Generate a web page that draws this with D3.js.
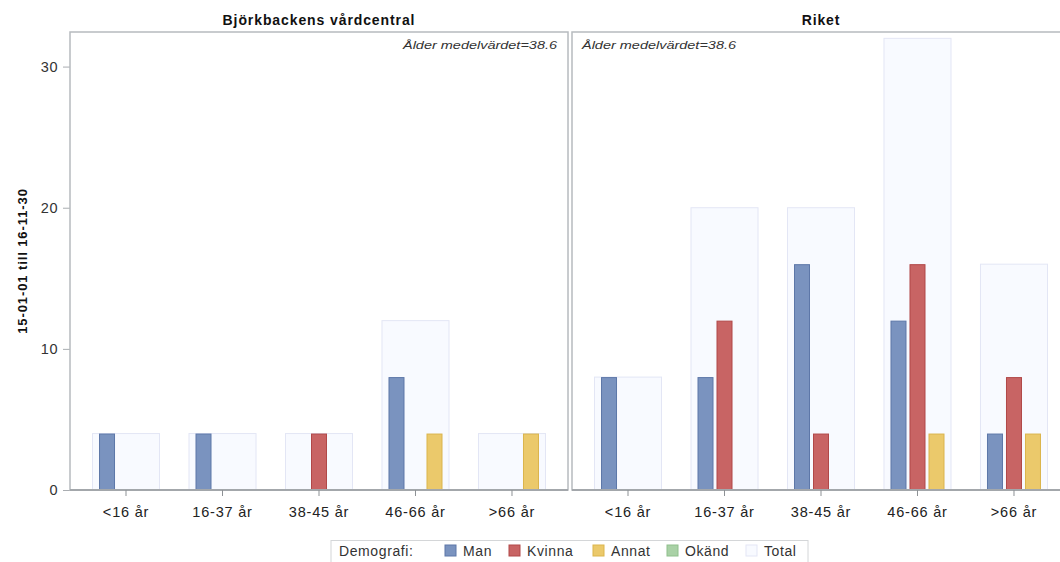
<!DOCTYPE html>
<html><head><meta charset="utf-8">
<script src="https://cdn.jsdelivr.net/npm/d3@7"></script>
<style>
html,body{margin:0;padding:0;background:#fff;overflow:hidden}
svg{display:block;font-family:"Liberation Sans",Arial,sans-serif}
</style></head>
<body>
<svg id="c" width="1060" height="562"></svg>
<script>
const categories = ["<16 år","16-37 år","38-45 år","46-66 år",">66 år"];
const panels = ["Björkbackens vårdcentral","Riket"];
const annotations = ["Ålder medelvärdet=38.6","Ålder medelvärdet=38.6"];
const seriesKeys = ["Man","Kvinna","Annat"];
const legendKeys = ["Man","Kvinna","Annat","Okänd","Total"];
// Björkbackens vårdcentral
const bjManValues    = [4,4,0,8,0];
const bjKvinnaValues = [0,0,4,0,0];
const bjAnnatValues  = [0,0,0,4,4];
const bjTotalValues  = [4,4,4,12,4];
// Riket
const riManValues    = [8,8,16,12,4];
const riKvinnaValues = [0,12,4,16,8];
const riAnnatValues  = [0,0,0,4,4];
const riTotalValues  = [8,20,20,32,16];
const yTicks = [0,10,20,30];
const yTitle = "15-01-01 till 16-11-30";
const legendTitle = "Demografi:";

const panelData = [
  {Man:bjManValues,Kvinna:bjKvinnaValues,Annat:bjAnnatValues,Total:bjTotalValues},
  {Man:riManValues,Kvinna:riKvinnaValues,Annat:riAnnatValues,Total:riTotalValues}
];
const fills = {Man:"#7a93bf",Kvinna:"#c86464",Annat:"#ebc96b",Okänd:"#a9d1a6",Total:"#f8faff"};
const strokes = {Man:"#5d77a8",Kvinna:"#b14848",Annat:"#dbb54c",Okänd:"#8fbf8c",Total:"#e3e6f5"};

const svg = d3.select("#c");
const plotTop = 32, plotBottom = 490;
const y = d3.scaleLinear().domain([0,32.45]).range([plotBottom, plotTop]);
const panelX = [[70,568],[572,1070]];
const txtCol = "#333";

const yAx = svg.append("g").attr("transform","translate(70,0)")
  .call(d3.axisLeft(y).tickValues(yTicks).tickSize(7).tickPadding(5));
yAx.select(".domain").remove();
yAx.selectAll("line").attr("stroke","#a9adb1");
yAx.selectAll("text").attr("fill",txtCol).attr("font-size",14.5).attr("letter-spacing",0.5)
  .attr("font-family","Liberation Sans, Arial, sans-serif");

svg.append("text").attr("transform",`translate(27,${(plotTop+plotBottom)/2}) rotate(-90)`)
  .attr("text-anchor","middle").attr("font-weight","bold").attr("font-size",13)
  .attr("letter-spacing",0.9).attr("fill","#111").text(yTitle);

panels.forEach((name,pi)=>{
  const [x0,x1] = panelX[pi];
  const x = d3.scaleBand().domain(categories).range([x0,x1]).paddingInner(0.295).paddingOuter(0.228);
  const xs = d3.scaleBand().domain(seriesKeys).range([-27,27]).paddingInner(0.158);
  const g = svg.append("g");
  const d = panelData[pi];
  g.append("rect").attr("x",x0).attr("y",plotTop).attr("width",x1-x0).attr("height",plotBottom-plotTop)
    .attr("fill","none").attr("stroke","#b7bbbf").attr("stroke-width",1.5);
  g.selectAll("rect.tot").data(categories).join("rect").attr("class","tot")
    .attr("x",c=>x(c)+0.5).attr("width",x.bandwidth()-1)
    .attr("y",(c,i)=>y(d.Total[i])).attr("height",(c,i)=>y(0)-y(d.Total[i]))
    .attr("fill",fills.Total).attr("stroke",strokes.Total).attr("stroke-width",1);
  seriesKeys.forEach(k=>{
    const vals = categories.map((c,i)=>({c,v:d[k][i]})).filter(e=>e.v>0);
    g.selectAll("rect.s"+k).data(vals).join("rect").attr("class","s"+k)
      .attr("x",e=>x(e.c)+x.bandwidth()/2+xs(k)+0.5).attr("width",xs.bandwidth()-1)
      .attr("y",e=>y(e.v)+0.5).attr("height",e=>y(0)-y(e.v)-0.5)
      .attr("fill",fills[k]).attr("stroke",strokes[k]).attr("stroke-width",1);
  });
  g.append("line").attr("x1",x0).attr("x2",x1).attr("y1",plotBottom).attr("y2",plotBottom)
    .attr("stroke","#a3a7ab").attr("stroke-width",1.8);
  const xa = g.append("g").attr("transform",`translate(0,${plotBottom})`)
    .call(d3.axisBottom(x).tickSize(6).tickPadding(11));
  xa.select(".domain").remove();
  xa.selectAll("line").attr("stroke","#8d9195");
  xa.selectAll("text").attr("fill","#222").attr("font-size",14.5).attr("letter-spacing",0.8)
    .attr("font-family","Liberation Sans, Arial, sans-serif");
  svg.append("text").attr("x",(x0+x1)/2).attr("y",25).attr("text-anchor","middle")
    .attr("font-weight","bold").attr("font-size",14).attr("letter-spacing",0.9)
    .attr("fill","#111").text(name);
  const an = svg.append("text").attr("y",49).attr("font-style","italic").attr("font-size",11)
    .attr("fill","#333").attr("textLength",154).attr("lengthAdjust","spacingAndGlyphs").text(annotations[pi]);
  if(pi===0){ an.attr("x",x1-11).attr("text-anchor","end"); }
  else { an.attr("x",x0+10).attr("text-anchor","start"); }
});

const lg = svg.append("g");
lg.append("rect").attr("x",331).attr("y",540.5).attr("width",477).attr("height",22)
  .attr("fill","#fff").attr("stroke","#d4d6d8").attr("stroke-width",1);
lg.append("text").attr("x",339).attr("y",556).attr("font-size",14).attr("letter-spacing",0.6)
  .attr("fill",txtCol).text(legendTitle);
const legX = [445,509,593,667,746];
legendKeys.forEach((k,i)=>{
  lg.append("rect").attr("x",legX[i]).attr("y",545).attr("width",11).attr("height",11)
    .attr("fill",fills[k]).attr("stroke",strokes[k]).attr("stroke-width",1);
  lg.append("text").attr("x",legX[i]+18).attr("y",556).attr("font-size",14).attr("letter-spacing",0.6)
    .attr("fill",txtCol).text(k);
});
</script>
</body></html>
